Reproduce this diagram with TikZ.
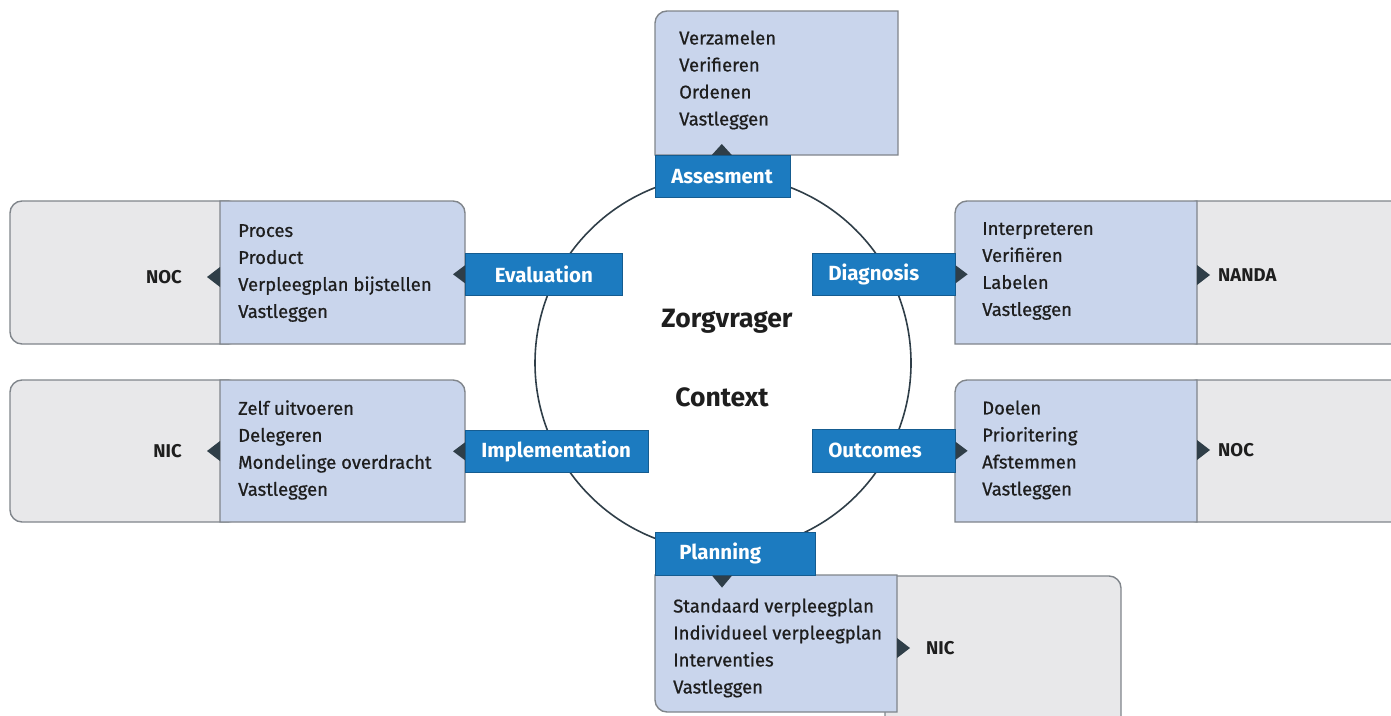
\documentclass[tikz,border=0pt]{standalone}
\usepackage{fontspec}
\setmainfont{Fira Sans}
\newfontfamily\medfont{Fira Sans}[FakeBold=0.7]
\definecolor{boxblue}{HTML}{C9D5EC}
\definecolor{boxgrey}{HTML}{E8E8EA}
\definecolor{tabblue}{HTML}{1C7BC0}
\definecolor{tipdark}{HTML}{2F3E48}
\definecolor{edgegrey}{HTML}{80858B}
\definecolor{ink}{HTML}{1E1E1E}
\tikzset{
  boxb/.style={fill=boxblue, draw=edgegrey, line width=1.4pt},
  boxg/.style={fill=boxgrey, draw=edgegrey, line width=1.4pt, rounded corners=12},
  tab/.style={fill=tabblue, draw=tabblue!75!black, line width=0.6pt, text=white,
    font=\fontsize{20.5}{22}\selectfont\bfseries, minimum height=42pt, inner ysep=0pt,
    inner xsep=16pt, align=left, anchor=north west},
  steps/.style={font=\medfont\fontsize{18.5}{27}\selectfont, text=ink, align=left, anchor=west, inner sep=0pt},
  code/.style={font=\fontsize{18.5}{21}\selectfont\bfseries, text=ink, inner sep=0pt},
  tipl/.style={fill=tipdark},
}
\begin{document}
\begin{tikzpicture}[x=1pt,y=-1pt]
\useasboundingbox (0,0) rectangle (1391,715);

\node (ring) [draw=tipdark, line width=1.6pt, circle, minimum size=376pt] at (723,363) {};
\node (client) [font=\fontsize{26.5}{30}\selectfont\bfseries, text=ink] at (727,321) {Zorgvrager};
\node (context) [font=\fontsize{26.5}{30}\selectfont\bfseries, text=ink] at (722,397) {Context};

\draw[boxb] (655,155) -- (655,23) arc[start angle=180, end angle=270, radius=12] -- (898,11) -- (898,155) -- cycle;
\node (asmt) [tab, text width=103pt] at (655,155) {Assesment};
\node (asmtsteps) [steps] at (679,80) {Verzamelen\\Verifieren\\Ordenen\\Vastleggen};
\fill[tipl] ([xshift=-1pt]asmt.north) -- ++(-10,0) -- ++(10,-11) -- ++(10,11) -- cycle;

\draw[boxg] (10,201) rectangle (240,344);
\draw[boxb] (220,201) -- (453,201) arc[start angle=270, end angle=360, radius=12] -- (465,344) -- (220,344) -- cycle;
\node (eval) [tab, text width=125pt, align=center] at (465,253) {Evaluation};
\node (evalsteps) [steps] at (238,273) {Proces\\Product\\Verpleegplan bijstellen\\Vastleggen};
\node (noca) [code, anchor=east] at (182,277) {NOC};
\fill[tipl] (eval.west) -- ++(0,-9) -- ++(-12,9) -- ++(12,9) -- cycle;
\fill[tipl] ([xshift=25pt]noca.east) -- ++(13,-10) -- ++(0,20) -- cycle;

\draw[boxg] (10,380) rectangle (240,522);
\draw[boxb] (220,380) -- (453,380) arc[start angle=270, end angle=360, radius=12] -- (465,522) -- (220,522) -- cycle;
\node (impl) [tab, text width=151pt] at (465,430) {Implementation};
\node (implsteps) [steps] at (238,450) {Zelf uitvoeren\\Delegeren\\Mondelinge overdracht\\Vastleggen};
\node (nica) [code, anchor=east] at (182,451) {NIC};
\fill[tipl] (impl.west) -- ++(0,-9) -- ++(-12,9) -- ++(12,9) -- cycle;
\fill[tipl] ([xshift=25pt]nica.east) -- ++(13,-10) -- ++(0,20) -- cycle;

\draw[boxg] (1185,201) rectangle (1405,344);
\draw[boxb] (955,344) -- (955,213) arc[start angle=180, end angle=270, radius=12] -- (1197,201) -- (1197,344) -- cycle;
\node (diag) [tab, text width=111pt] at (812,253) {Diagnosis};
\node (diagsteps) [steps] at (982,271) {Interpreteren\\Verifiëren\\Labelen\\Vastleggen};
\node (nanda) [code, anchor=west] at (1218,275) {NANDA};
\fill[tipl] (diag.east) -- ++(0,-9) -- ++(12,9) -- ++(-12,9) -- cycle;
\fill[tipl] ([xshift=-21pt]nanda.west) -- ++(0,-10) -- ++(13,10) -- ++(-13,10) -- cycle;

\draw[boxg] (1185,380) rectangle (1405,522);
\draw[boxb] (955,522) -- (955,392) arc[start angle=180, end angle=270, radius=12] -- (1197,380) -- (1197,522) -- cycle;
\node (outc) [tab, text width=111pt, minimum height=43pt] at (812,429) {Outcomes};
\node (outcsteps) [steps] at (982,450) {Doelen\\Prioritering\\Afstemmen\\Vastleggen};
\node (nocb) [code, anchor=west] at (1218,450) {NOC};
\fill[tipl] (outc.east) -- ++(0,-9) -- ++(12,9) -- ++(-12,9) -- cycle;
\fill[tipl] ([xshift=-21pt]nocb.west) -- ++(0,-10) -- ++(13,10) -- ++(-13,10) -- cycle;

\draw[boxg] (885,576) rectangle (1121,740);
\draw[boxb] (655,575) -- (897,575) -- (897,712) -- (667,712) arc[start angle=90, end angle=180, radius=12] -- cycle;
\node (plan) [tab, text width=112pt, inner xsep=24pt, minimum height=43pt] at (655,532) {Planning};
\node (plansteps) [steps] at (673,648) {Standaard verpleegplan\\Individueel verpleegplan\\Interventies\\Vastleggen};
\node (nicb) [code, anchor=west] at (926,648) {NIC};
\fill[tipl] ([xshift=67pt]plan.south west) -- ++(-10,0) -- ++(10,12) -- ++(10,-12) -- cycle;
\fill[tipl] ([xshift=-29pt]nicb.west) -- ++(0,-10) -- ++(13,10) -- ++(-13,10) -- cycle;
\end{tikzpicture}
\end{document}
